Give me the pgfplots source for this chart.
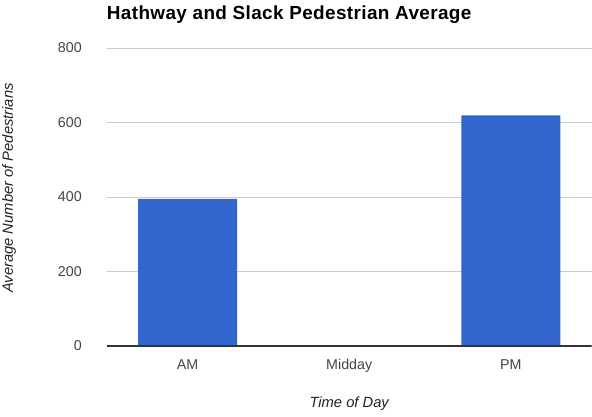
\documentclass[border=0pt]{standalone}
\usepackage{pgfplots}
\pgfplotsset{compat=1.18}
\usepackage{fontspec}
\setmainfont{Liberation Sans}
\definecolor{barblue}{HTML}{3366CC}
\definecolor{gridgray}{HTML}{CCCCCC}
\definecolor{ticktext}{HTML}{444444}
\definecolor{labeltext}{HTML}{222222}
\definecolor{baseline}{HTML}{333333}
\begin{document}
\begin{tikzpicture}[x=1bp,y=1bp]
\useasboundingbox (0,0) rectangle (592,416);
\begin{axis}[
  at={(106.7bp,70bp)}, anchor=south west,
  scale only axis, width=485bp, height=298bp,
  xmin=-0.5, xmax=2.5, ymin=0, ymax=800,
  xtick={0,1,2}, xticklabels={AM,Midday,PM},
  ytick={0,200,400,600,800},
  ymajorgrids, grid style={color=gridgray, line width=0.8bp},
  axis line style={draw=none},
  major tick length=0pt,
  /pgf/number format/assume math mode=true,
  tick label style={font=\fontsize{14.3}{16}\selectfont, text=ticktext},
  yticklabel style={anchor=east, xshift=-21.5bp},
  xticklabel style={anchor=base, yshift=-23bp},
  title={Hathway and Slack Pedestrian Average},
  every axis title shift=0pt,
  title style={at={(axis description cs:0.0,1.0973)}, anchor=base west, inner sep=0pt,
    font=\bfseries\fontsize{19}{22}\selectfont\addfontfeatures{LetterSpace=2}, text=black},
  xlabel={Time of Day},
  xlabel style={at={(axis description cs:0.5,-0.208)}, anchor=base,
    font=\itshape\fontsize{14.8}{17}\selectfont, text=labeltext},
  ylabel={Average Number of Pedestrians},
  ylabel style={at={(axis description cs:-0.2014,0.53)}, anchor=center, rotate=0,
    font=\itshape\fontsize{14.8}{17}\selectfont, text=labeltext},
]
\addplot[ybar, bar width=99bp, fill=barblue, draw=none] coordinates {(0,395) (1,0) (2,619)};
\draw[color=baseline, line width=1.2bp] (axis cs:-0.5,0) -- (axis cs:2.5,0);
\end{axis}
\end{tikzpicture}
\end{document}
